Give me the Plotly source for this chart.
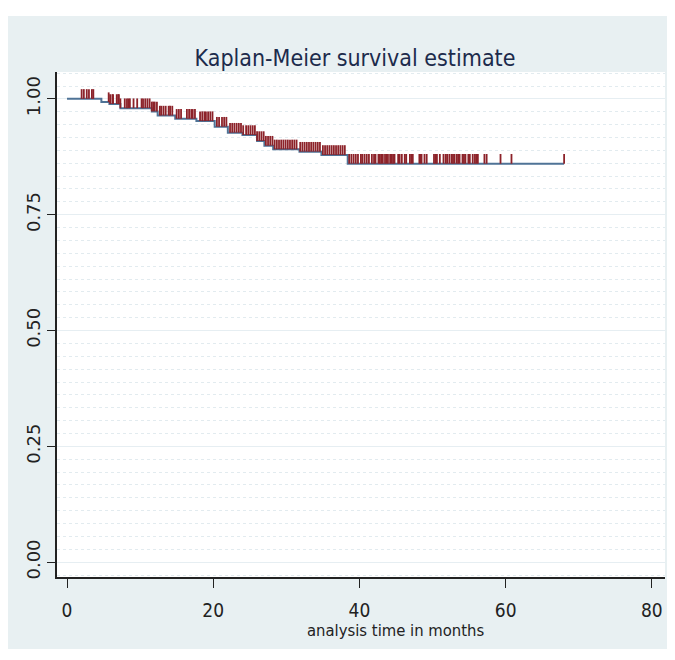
import numpy as np
import plotly.graph_objects as go

# Kaplan-Meier step function (time in months, survival)
km_times = [0, 4.7, 5.8, 7.3, 11.6, 12.4, 14.8, 17.7, 20.2, 22.0, 24.0, 26.0, 27.0, 28.2, 31.8, 34.8, 38.4, 68.0]
km_surv = [1.000, 0.993, 0.989, 0.980, 0.973, 0.964, 0.957, 0.952, 0.940, 0.927, 0.922, 0.909, 0.899, 0.891, 0.886, 0.879, 0.860, 0.860]

# Censoring times (months)
censor_times = [
    2.0, 2.3, 2.7, 3.0, 3.4, 3.6,
    5.7, 5.9, 6.2, 6.3, 6.8, 7.0, 7.1, 7.3, 7.9, 8.2, 8.4, 8.6, 9.1, 9.6,
    10.2, 10.4, 10.7, 11.0, 11.3, 11.6, 11.8, 12.0, 12.3,
    12.7, 12.9, 13.2, 13.5, 13.9, 14.1, 14.4,
    15.0, 15.3, 15.6, 16.4, 16.7, 17.0, 17.2, 17.5,
    18.2, 18.5, 18.8, 19.0, 19.3, 19.6, 19.9,
    20.5, 20.8, 21.2, 21.5, 21.8,
    22.3, 22.6, 22.9, 23.2, 23.5, 23.8, 24.1,
    24.5, 24.8, 25.1, 25.4, 25.7,
    26.0, 26.3, 26.6, 26.9, 27.2, 27.5, 27.8,
    28.1, 28.4, 28.7, 29.0, 29.3, 29.6, 29.9, 30.2, 30.5, 30.8, 31.1, 31.4,
    31.9, 32.2, 32.5, 32.8, 33.1, 33.4, 33.7, 34.0, 34.3, 34.6,
    35.0, 35.3, 35.6, 35.9, 36.2, 36.5, 36.8, 37.1, 37.4, 37.7, 38.0,
    38.6, 38.9, 39.2, 39.5, 39.8,
    40.2, 40.4, 40.7, 41.0, 41.3, 41.7, 42.0, 42.2, 42.6, 42.8, 43.0, 43.2,
    43.5, 43.7, 43.9, 44.2, 44.4, 44.6, 44.8, 45.3, 45.5, 45.8, 46.2, 46.4,
    46.9, 47.1, 47.3, 48.2, 48.4, 48.5, 48.9, 49.2, 50.2, 50.4, 50.6, 51.0,
    51.5, 51.8, 52.0, 52.3, 52.6, 52.8, 53.0, 53.3, 53.5, 53.7, 54.1, 54.3,
    54.5, 54.9, 55.1, 55.5, 55.8, 56.0, 56.2, 57.1, 57.4, 59.3, 60.8, 68.0,
]

x_tick_vals = [0, 20, 40, 60, 80]
y_tick_vals = [0.0, 0.25, 0.5, 0.75, 1.0]
y_tick_text = ["0.00", "0.25", "0.50", "0.75", "1.00"]

# survival at each censoring time (step lookup)
kt = np.array(km_times)
ks = np.array(km_surv)
idx = np.searchsorted(kt, np.array(censor_times), side="right") - 1
censor_surv = ks[idx]

LINE = "#4f7396"
RED = "#8c2229"
PANEL = "#e8f0f2"
NARROW = "DejaVu Sans Condensed, Liberation Sans Narrow, sans-serif"

fig = go.Figure()

fig.add_trace(go.Scatter(
    x=km_times, y=km_surv, mode="lines", line=dict(color=LINE, width=2, shape="hv"),
    showlegend=False, hoverinfo="skip",
))

tick_h = 0.021
fig.add_trace(go.Scatter(
    x=censor_times, y=censor_surv, mode="markers",
    marker=dict(size=1, color="rgba(0,0,0,0)"),
    error_y=dict(type="data", symmetric=False, array=[tick_h] * len(censor_times),
                 arrayminus=[0] * len(censor_times), width=0, color=RED, thickness=1.8),
    showlegend=False, hoverinfo="skip",
))

# figure geometry (figure sits 8px in from page corner)
L, R, T, B = 49, 18, 64, 91
W, H = 675, 660
pw, ph = W - L - R, H - T - B


def px_x(x):
    return (x - L) / pw


def px_y(y):
    return (H - B - y) / ph


# white strips above and below the panel
fig.add_shape(type="rect", xref="paper", yref="paper",
              x0=px_x(-5), x1=px_x(W + 5), y0=px_y(8), y1=px_y(-5),
              fillcolor="white", line=dict(width=0), layer="below")
fig.add_shape(type="rect", xref="paper", yref="paper",
              x0=px_x(-5), x1=px_x(W + 5), y0=px_y(H + 5), y1=px_y(641),
              fillcolor="white", line=dict(width=0), layer="below")

fig.add_annotation(text="analysis time in months", xref="paper", yref="paper",
                   x=px_x(387), y=px_y(622), xanchor="center", yanchor="middle",
                   showarrow=False, font=dict(family=NARROW, size=16.5, color="#222"))

fig.update_layout(
    width=W, height=H,
    margin=dict(l=L, r=R, t=T, b=B, autoexpand=False),
    paper_bgcolor=PANEL,
    plot_bgcolor="white",
    title=dict(text="Kaplan-Meier survival estimate", x=347 / W, xref="container", xanchor="center",
               y=1 - 50 / H, yref="container", yanchor="middle",
               font=dict(family=NARROW, size=23, color="#1c2b4c")),
    xaxis=dict(
        range=[-1.37, 81.8], tickvals=x_tick_vals, ticks="outside", ticklen=9, tickwidth=1,
        tickcolor="#222", showline=True, linecolor="#222", linewidth=1.5, showgrid=False,
        zeroline=False, automargin=False, ticklabelstandoff=6,
        tickfont=dict(family=NARROW, size=19, color="#222"),
    ),
    yaxis=dict(
        range=[-0.032, 1.058], tickvals=y_tick_vals, ticktext=y_tick_text, tickangle=-90,
        ticks="outside", ticklen=8, tickwidth=1, tickcolor="#222", automargin=False,
        showline=True, linecolor="#222", linewidth=1.5,
        showgrid=True, gridcolor="#e6eef2", gridwidth=1, zeroline=False,
        tickfont=dict(family="DejaVu Sans, sans-serif", size=18, color="#222"),
        minor=dict(dtick=0.25 / 9, showgrid=True, gridcolor="#e2ebef", griddash="dot", gridwidth=1),
    ),
)

fig.write_html("out.html")
